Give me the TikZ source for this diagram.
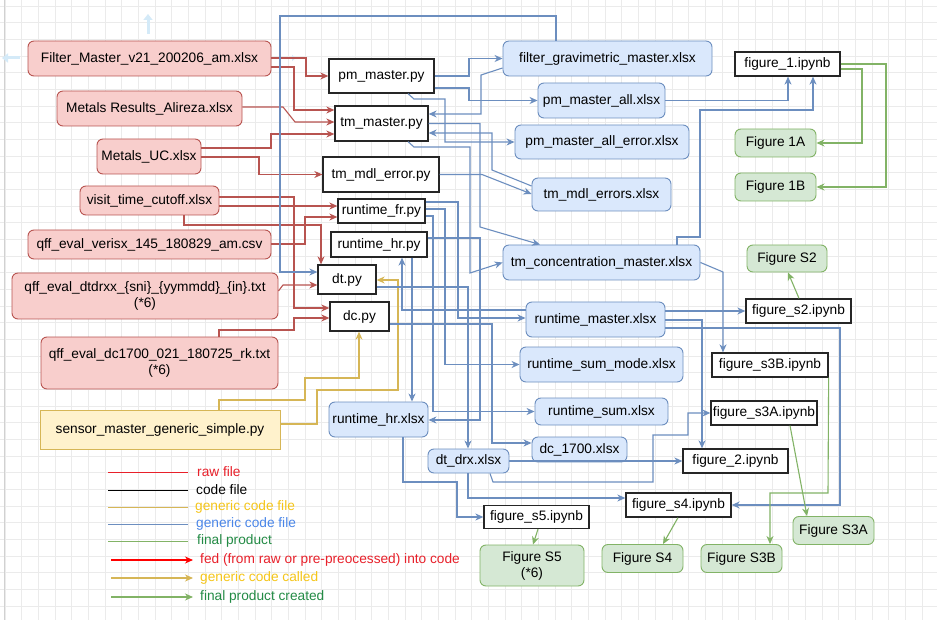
\documentclass[tikz,border=0pt]{standalone}
\usepackage{fontspec}
\setmainfont{Liberation Sans}
\usetikzlibrary{arrows.meta}
\definecolor{rawf}{HTML}{F8CECC}
\definecolor{rawd}{HTML}{B85450}
\definecolor{datf}{HTML}{DAE8FC}
\definecolor{datd}{HTML}{6C8EBF}
\definecolor{fing}{HTML}{D5E8D4}
\definecolor{find}{HTML}{82B366}
\definecolor{genf}{HTML}{FFF2CC}
\definecolor{gend}{HTML}{D6B656}
\definecolor{gridc}{HTML}{EBEBEB}
\definecolor{uic}{HTML}{D4EAF8}
\definecolor{legred}{HTML}{E8202A}
\definecolor{legyel}{HTML}{F5C518}
\definecolor{legblu}{HTML}{4A86E8}
\definecolor{leggrn}{HTML}{238B45}
\begin{document}
\begin{tikzpicture}[x=1pt,y=-1pt,font=\fontsize{13.7}{16}\selectfont,
  base/.style={inner sep=0pt,align=center,text=black},
  raw/.style={base,draw=rawd,fill=rawf,rounded corners=6pt,line width=0.9pt},
  dat/.style={base,draw=datd,fill=datf,rounded corners=6pt,line width=0.9pt},
  fin/.style={base,draw=find,fill=fing,rounded corners=6pt,line width=0.9pt},
  gen/.style={base,draw=gend,fill=genf,line width=0.9pt},
  code/.style={base,draw=black!85,fill=white,line width=1.3pt},
  sz/.style 2 args={minimum width=#1pt,minimum height=#2pt},
  conn/.style={line width=1.1pt,-{Stealth[length=8pt,width=7pt,inset=2.5pt]}},
  rl/.style={conn,draw=rawd},
  bl/.style={conn,draw=datd},
  yl/.style={conn,draw=gend},
  gl/.style={conn,draw=find},
  legtxt/.style={anchor=west,inner sep=0pt}
]
\useasboundingbox (0,0) rectangle (937,620);
\fill[white] (0,0) rectangle (937,620);
\foreach \i in {0,...,56} \draw[gridc,line width=0.6pt] ({5+16.67*\i},0) -- ({5+16.67*\i},620);
\foreach \j in {0,...,37} \draw[gridc,line width=0.6pt] (0,{6+16.67*\j}) -- (937,{6+16.67*\j});
\draw[black!18,line width=0.8pt] (4,0) -- (4,620);

% faint UI arrows
\draw[uic,line width=3pt,-{Triangle[length=6pt,width=9pt]}] (148,34) -- (148,14);
\draw[uic,line width=3pt,-{Triangle[length=6pt,width=9pt]}] (20,58) -- (2,58);
\draw[uic,line width=2pt,-{Triangle[length=4pt,width=6pt]}] (284,58) -- (296,58);

% raw nodes
\node[raw,sz={243}{35}] (r1) at (149.5,58.5) {Filter\_Master\_v21\_200206\_am.xlsx};
\node[raw,sz={185}{35}] (r2) at (149.5,108.5) {Metals Results\_Alireza.xlsx};
\node[raw,sz={104}{35}] (r3) at (149,156.5) {Metals\_UC.xlsx};
\node[raw,sz={139}{29}] (r4) at (149.5,200.5) {visit\_time\_cutoff.xlsx};
\node[raw,sz={243}{29}] (r5) at (149.5,244.5) {qff\_eval\_verisx\_145\_180829\_am.csv};
\node[raw,sz={266}{46}] (r6) at (145,296) {qff\_eval\_dtdrxx\_\{sni\}\_\{yymmdd\}\_\{in\}.txt\\(*6)};
\node[raw,sz={237}{52}] (r7) at (159.5,363) {qff\_eval\_dc1700\_021\_180725\_rk.txt\\(*6)};
\node[gen,sz={240}{39}] (y1) at (160,429.5) {sensor\_master\_generic\_simple.py};

% code nodes
\node[code,sz={105}{34}] (c1) at (381.5,76) {pm\_master.py};
\node[code,sz={93}{35}] (c2) at (381.5,123.5) {tm\_master.py};
\node[code,sz={116}{35}] (c3) at (381,174.5) {tm\_mdl\_error.py};
\node[code,sz={87}{24}] (c4) at (381.5,211) {runtime\_fr.py};
\node[code,sz={96}{25}] (c5) at (379,244.5) {runtime\_hr.py};
\node[code,sz={58}{29}] (c6) at (347,279.5) {dt.py};
\node[code,sz={59}{29}] (c7) at (359.5,316.5) {dc.py};
\node[code,sz={105}{24}] (f1) at (787.5,64) {figure\_1.ipynb};
\node[code,sz={105}{24}] (f2) at (798.5,311) {figure\_s2.ipynb};
\node[code,sz={116}{24}] (f3) at (770,365) {figure\_s3B.ipynb};
\node[code,sz={106}{24}] (f4) at (764,413) {figure\_s3A.ipynb};
\node[code,sz={105}{24}] (f5) at (735.5,461) {figure\_2.ipynb};
\node[code,sz={105}{24}] (f6) at (678.5,505) {figure\_s4.ipynb};
\node[code,sz={105}{23}] (f7) at (536.5,517) {figure\_s5.ipynb};

% data nodes
\node[dat,sz={209}{35}] (d1) at (607.5,58.5) {filter\_gravimetric\_master.xlsx};
\node[dat,sz={127}{35}] (d2) at (601.5,100.5) {pm\_master\_all.xlsx};
\node[dat,sz={174}{34}] (d3) at (602,142) {pm\_master\_all\_error.xlsx};
\node[dat,sz={139}{33}] (d4) at (601.5,194.5) {tm\_mdl\_errors.xlsx};
\node[dat,sz={197}{35}] (d5) at (601.5,262.5) {tm\_concentration\_master.xlsx};
\node[dat,sz={139}{35}] (d6) at (595.5,319.5) {runtime\_master.xlsx};
\node[dat,sz={163}{35}] (d7) at (601.5,364.5) {runtime\_sum\_mode.xlsx};
\node[dat,sz={133}{27}] (d8) at (601.5,411.5) {runtime\_sum.xlsx};
\node[dat,sz={95}{25}] (d9) at (579.5,449.5) {dc\_1700.xlsx};
\node[dat,sz={81}{24}] (d10) at (468.5,461) {dt\_drx.xlsx};
\node[dat,sz={99}{35}] (d11) at (378.5,419.5) {runtime\_hr.xlsx};

% final nodes
\node[fin,sz={81}{28}] (g1) at (775.5,143) {Figure 1A};
\node[fin,sz={81}{28}] (g2) at (775.5,187) {Figure 1B};
\node[fin,sz={80}{27}] (g3) at (787,258.5) {Figure S2};
\node[fin,sz={81}{28}] (g4) at (833.5,530.5) {Figure S3A};
\node[fin,sz={81}{28}] (g5) at (741.5,558.5) {Figure S3B};
\node[fin,sz={81}{28}] (g6) at (642.5,558.5) {Figure S4};
\node[fin,sz={104}{41}] (g7) at (532,565.5) {Figure S5\\(*6)};

% red connectors
\draw[rl] (r1.east |- 0,58) -- (306,58) |- (c1.west);
\draw[rl] (r1.east |- 0,67) -- (294,67) |- (c2.west |- 0,110);
\draw[rl] (r2.east |- 0,107) -- (283,107) -- (295,122) -- (c2.west |- 0,122);
\draw[rl] (r3.east |- 0,148) -- (271,148) |- (c2.west |- 0,134);
\draw[rl] (r3.east |- 0,157) -- (259,157) |- (c3.west);
\draw[rl] (r4.east |- 0,197) -- (294,197) |- (c7.west |- 0,308);
\draw[rl] (r4.east |- 0,206) -- (c4.west |- 0,206);
\draw[rl] (r5.east |- 0,244) -- (305,244) |- (c4.west |- 0,217);
\draw[rl] (r4.south -| 184,0) |- (321,225) -- (c6.north -| 321,0);
\draw[rl] (r6.east |- 0,291) -- (283,285) -- (c6.west |- 0,285);
\draw[rl] (r7.north -| 219,0) -- (219,330) -- (294,330) |- (c7.west |- 0,318);

% yellow connectors
\draw[yl] (y1.north -| 219,0) -- (219,400) -- (305,400) -- (305,378) -- (359,378) -- (c7.south -| 359,0);
\draw[yl] (y1.east |- 0,424) -- (317,424) -- (317,390) -- (398,390) |- (c6.east |- 0,280);

% blue connectors
\draw[bl] (d1.north -| 556,0) |- (280,16) |- (c6.west |- 0,272);
\draw[bl] (c1.east) -- (469,76) |- (d1.west);
\draw[bl] (c1.east |- 0,88) -- (469,88) |- (d2.west);
\draw[bl] (d1.west |- 0,68) -- (481,75) |- (c2.east |- 0,114);
\draw[bl] (d4.west |- 0,186) -- (492,170) |- (c2.east |- 0,133);
\draw[bl] (c1.south -| 408,0) -- (414,99) -- (445,99) |- (d3.west);
\draw[bl] (c2.east) -- (480,123.5) -- (480,227) -- (d5.north -| 540,0);
\draw[bl] (c2.south -| 408,0) -- (414,147) -- (470,147) -- (470,273) -- (d5.west);
\draw[bl] (c3.east) -- (482,174.5) -- (d4.west |- 0,194);
\draw[bl] (c4.east |- 0,202) -- (458,202) |- (d6.west |- 0,318);
\draw[bl] (c4.east |- 0,209) -- (445,209) |- (d7.west);
\draw[bl] (c4.east |- 0,216) -- (433,216) |- (d8.west);
\draw[bl] (c5.east |- 0,238) -- (480,238) |- (d11.east |- 0,420);
\draw[bl] (c5.south -| 412,0) -- (d11.north -| 412,0);
\draw[bl] (d6.west |- 0,310) -- (402,310) -- (c5.south -| 402,0);
\draw[bl] (c6.east |- 0,287) -- (468,287) -- (d10.north -| 468,0);
\draw[bl] (c7.east |- 0,324) -- (492,324) |- (d9.west |- 0,443);
\draw[bl] (d2.east) -- (788,100.5) -- (f1.south -| 788,0);
\draw[bl] (d5.north -| 677,0) -- (677,237) -- (700,237) -- (700,110) -- (813,110) -- (f1.south -| 813,0);
\draw[bl] (d5.east) -- (723,272) -- (f3.north -| 723,0);
\draw[bl] (d6.east |- 0,311) -- (f2.west);
\draw[bl] (d6.east |- 0,320) -- (702,320) -- (f5.north -| 702,0);
\draw[bl] (d6.east |- 0,328) -- (840,328) |- (f6.east);
\draw[bl] (d10.south -| 490,0) -- (493,482) -- (653,482) -- (653,435) -- (688,435) |- (f4.west);
\draw[bl] (d10.east) -- (f5.west);
\draw[bl] (d10.south -| 468,0) |- (f6.west |- 0,498);
\draw[bl] (d11.south -| 403,0) -- (403,482) -- (457,482) |- (f7.west);

% green connectors
\draw[gl] (f1.east |- 0,69) -- (862,69) |- (g1.east);
\draw[gl] (f1.east |- 0,64) -- (886,64) |- (g2.east);
\draw[gl] (f2.north -| 799,0) -- (g3.south -| 788,0);
\draw[gl] (f3.south east) -- (828,493) -- (770,493) -- (g5.north -| 770,0);
\draw[gl] (f4.south -| 790,0) -- (g4.north -| 807,0);
\draw[gl] (f6.south -| 678,0) -- (g6.north -| 663,0);
\draw[gl] (f7.south -| 538,0) -- (g7.north -| 533,0);

% legend
\coordinate (la1) at (108,472); \coordinate (lb1) at (188,472);
\coordinate (la2) at (108,490); \coordinate (lb2) at (188,490);
\coordinate (la3) at (108,507); \coordinate (lb3) at (188,507);
\coordinate (la4) at (108,524); \coordinate (lb4) at (188,524);
\coordinate (la5) at (108,541); \coordinate (lb5) at (188,541);
\coordinate (la6) at (111,560); \coordinate (lb6) at (193,560);
\coordinate (la7) at (111,578); \coordinate (lb7) at (193,578);
\coordinate (la8) at (111,597); \coordinate (lb8) at (193,597);
\draw[legred,line width=0.9pt] (la1) -- (lb1);
\draw[black,line width=0.9pt] (la2) -- (lb2);
\draw[gend,line width=0.9pt] (la3) -- (lb3);
\draw[datd,line width=0.9pt] (la4) -- (lb4);
\draw[find,line width=0.9pt] (la5) -- (lb5);
\draw[conn,draw=red] (la6) -- (lb6);
\draw[conn,draw=gend] (la7) -- (lb7);
\draw[conn,draw=find] (la8) -- (lb8);
\node[legtxt,text=legred] (t1) at (197,472) {raw file};
\node[legtxt,text=black] (t2) at (196,490) {code file};
\node[legtxt,text=legyel] (t3) at (195,507) {generic code file};
\node[legtxt,text=legblu] (t4) at (196,524) {generic code file};
\node[legtxt,text=leggrn] (t5) at (197,541) {final product};
\node[legtxt,text=legred] (t6) at (200,560) {fed (from raw or pre-preocessed) into code};
\node[legtxt,text=legyel] (t7) at (200,578) {generic code called};
\node[legtxt,text=leggrn] (t8) at (200,597) {final product created};
\end{tikzpicture}
\end{document}
